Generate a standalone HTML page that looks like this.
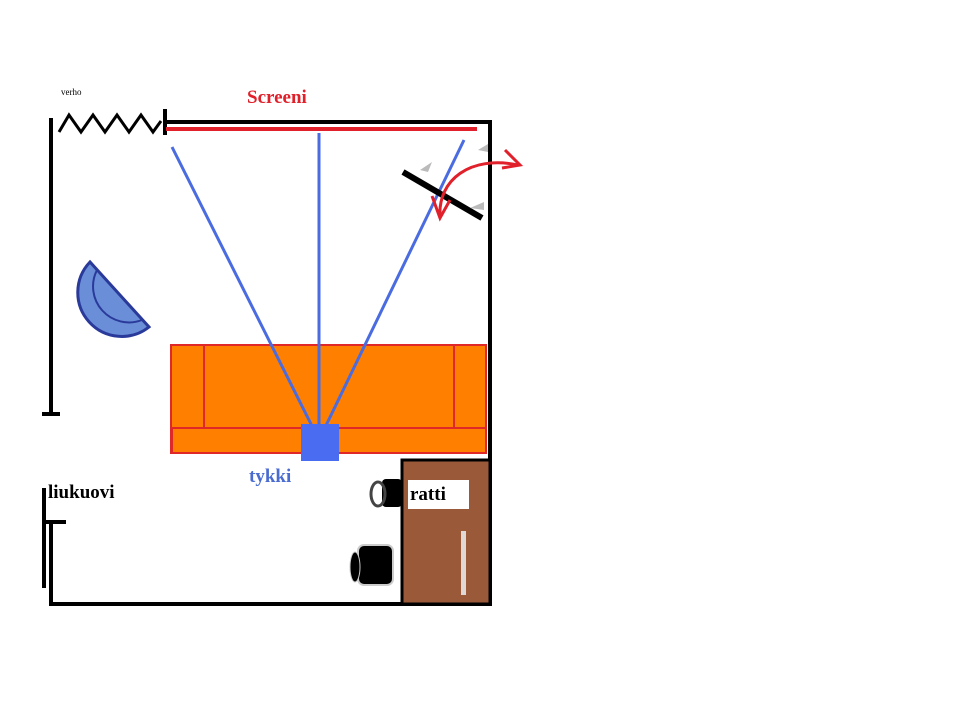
<!DOCTYPE html>
<html><head><meta charset="utf-8"><style>html,body{margin:0;padding:0;background:#fff;}svg{display:block}</style></head>
<body>
<svg width="960" height="720" viewBox="0 0 960 720" xmlns="http://www.w3.org/2000/svg">
<rect width="960" height="720" fill="#fff"/>
<g stroke="#000" stroke-width="4" fill="none" stroke-linecap="butt">
<line x1="165" y1="122" x2="492" y2="122"/>
<line x1="490" y1="120" x2="490" y2="606"/>
<line x1="50" y1="604" x2="492" y2="604"/>
<line x1="51" y1="118" x2="51" y2="414"/>
<line x1="42" y1="414" x2="60" y2="414"/>
<line x1="44" y1="488" x2="44" y2="588"/>
<line x1="44" y1="522" x2="66" y2="522"/>
<line x1="51" y1="522" x2="51" y2="606"/>
<line x1="165" y1="109" x2="165" y2="135"/>
<polyline stroke-width="3" points="59,132 69,115 81,132 93,115 105,132 117,115 129,132 141,115 153,132 161,121"/>
</g>
<text x="61" y="95" font-family="Liberation Serif, serif" font-size="9">verho</text>
<line x1="166" y1="129" x2="477" y2="129" stroke="#e0202a" stroke-width="4"/>
<text x="247" y="103" font-family="Liberation Serif, serif" font-size="19" font-weight="bold" fill="#e0202a">Screeni</text>
<rect x="171" y="345" width="315" height="108" fill="#ff8000" stroke="#e02828" stroke-width="2"/>
<rect x="171" y="345" width="33" height="83" fill="#ff8000" stroke="#e02828" stroke-width="2"/>
<rect x="454" y="345" width="32" height="83" fill="#ff8000" stroke="#e02828" stroke-width="2"/>
<rect x="172" y="428" width="314" height="25" fill="#ff8000" stroke="#e02828" stroke-width="2"/>
<g stroke="#4a6ce0" stroke-width="3">
<line x1="319" y1="440" x2="172" y2="147"/>
<line x1="319" y1="440" x2="319" y2="133"/>
<line x1="319" y1="440" x2="464" y2="140"/>
</g>
<rect x="301" y="424" width="38" height="37" fill="#4a6cf0"/>
<text x="249" y="482" font-family="Liberation Serif, serif" font-size="19" font-weight="bold" fill="#4a6cd0">tykki</text>
<line x1="403" y1="172" x2="482" y2="218" stroke="#000" stroke-width="6"/>
<polygon points="420,170 432,162 428,172" fill="#bbb"/>
<polygon points="478,150 488,144 488,152" fill="#bbb"/>
<polygon points="470,208 484,202 484,210" fill="#bbb"/>
<path d="M440,216 C438,180 470,155 518,165" fill="none" stroke="#e0202a" stroke-width="3"/>
<polyline points="505,150 520,165 502,168" fill="none" stroke="#e0202a" stroke-width="3"/>
<polyline points="432,196 440,218 450,200" fill="none" stroke="#e0202a" stroke-width="3"/>
<!-- chair (half disc) -->
<path d="M90,262 A44,44 0 0 0 149,327 Z" fill="#6a8fd8" stroke="#2a3a9a" stroke-width="3"/>
<path d="M97,270 A36,36 0 0 0 142,320" fill="none" stroke="#2a3a9a" stroke-width="2"/>
<rect x="402" y="460" width="88" height="144" fill="#9a5a3a" stroke="#000" stroke-width="3"/>
<rect x="408" y="480" width="61" height="29" fill="#fff"/>
<text x="410" y="500" font-family="Liberation Serif, serif" font-size="19" font-weight="bold">ratti</text>
<rect x="461" y="531" width="5" height="64" fill="#e0d8d4"/>
<rect x="382" y="479" width="20" height="28" rx="4" fill="#000"/>
<ellipse cx="378" cy="494" rx="7" ry="12" fill="none" stroke="#444" stroke-width="3"/>
<rect x="358" y="545" width="35" height="40" rx="6" fill="#000" stroke="#ccc" stroke-width="2"/>
<ellipse cx="355" cy="567" rx="5" ry="15" fill="#000" stroke="#ccc" stroke-width="1"/>
<text x="48" y="498" font-family="Liberation Serif, serif" font-size="19" font-weight="bold">liukuovi</text>
</svg>
</body></html>
